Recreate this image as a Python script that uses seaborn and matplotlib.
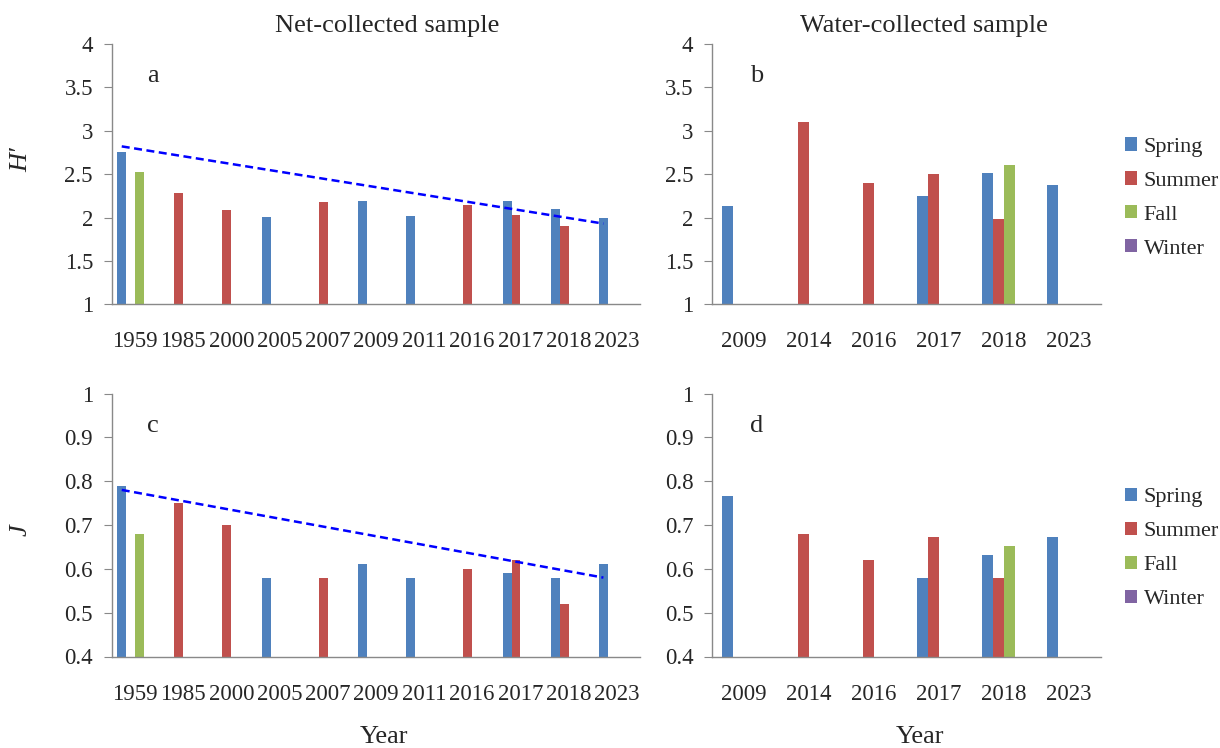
import numpy as np
import pandas as pd
import matplotlib
matplotlib.use("Agg")
import matplotlib.pyplot as plt
from matplotlib.patches import Patch
import seaborn as sns

# ---------------- data ----------------
seasons = ["Spring", "Summer", "Fall", "Winter"]
season_colors = ["#4F81BD", "#C0504D", "#9BBB59", "#8064A2"]

net_years = ["1959", "1985", "2000", "2005", "2007", "2009", "2011", "2016", "2017", "2018", "2023"]
net_H_spring = [2.76, None, None, 2.01, None, 2.19, 2.02, None, 2.19, 2.10, 2.00]
net_H_summer = [None, 2.28, 2.09, None, 2.18, None, None, 2.15, 2.03, 1.90, None]
net_H_fall   = [2.52, None, None, None, None, None, None, None, None, None, None]
net_J_spring = [0.79, None, None, 0.58, None, 0.61, 0.58, None, 0.59, 0.58, 0.61]
net_J_summer = [None, 0.75, 0.70, None, 0.58, None, None, 0.60, 0.62, 0.52, None]
net_J_fall   = [0.68, None, None, None, None, None, None, None, None, None, None]
trend_H = [2.82, 1.93]   # dashed trend line, first and last year
trend_J = [0.78, 0.58]

water_years = ["2009", "2014", "2016", "2017", "2018", "2023"]
water_H_spring = [2.13, None, None, 2.25, 2.51, 2.37]
water_H_summer = [None, 3.10, 2.40, 2.50, 1.98, None]
water_H_fall   = [None, None, None, None, 2.60, None]
water_J_spring = [0.767, None, None, 0.58, 0.631, 0.672]
water_J_summer = [None, 0.68, 0.62, 0.672, 0.58, None]
water_J_fall   = [None, None, None, None, 0.651, None]

H_ticks = ["1", "1.5", "2", "2.5", "3", "3.5", "4"]
J_ticks = ["0.4", "0.5", "0.6", "0.7", "0.8", "0.9", "1"]


def long_df(years, spring, summer, fall):
    rows = []
    for s, vals in zip(seasons[:3], [spring, summer, fall]):
        for y, v in zip(years, vals):
            if v is not None:
                rows.append({"Year": y, "Season": s, "Value": v})
    return pd.DataFrame(rows)


# ---------------- style ----------------
sns.set_style("white")
plt.rcParams["font.family"] = ["Liberation Serif", "DejaVu Serif"]
FS = 16.5
TFS = 19
GRAY = "#898989"

W, H = 1220, 748
fig = plt.figure(figsize=(W / 100, H / 100), dpi=100)


def px_axes(left, top, right, bottom):
    return fig.add_axes([left / W, 1 - bottom / H, (right - left) / W, (bottom - top) / H])


ax_a = px_axes(111.7, 44, 640, 304.3)
ax_b = px_axes(712, 44, 1101, 304.3)
ax_c = px_axes(111.7, 393.5, 640, 656.5)
ax_d = px_axes(712, 393.5, 1101, 656.5)

pal = dict(zip(seasons, season_colors))


def draw(ax, years, spring, summer, fall, ylim, ticks, width, margin, letter_x,
         trend=None, letter=""):
    df = long_df(years, spring, summer, fall)
    sns.barplot(data=df, x="Year", y="Value", hue="Season", order=years,
                hue_order=seasons, palette=pal, width=width, dodge=True,
                errorbar=None, legend=False, ax=ax, linewidth=0, saturation=1)
    n = len(years)
    ax.set_xlim(-margin, n - 1 + margin)
    lo, hi = ylim
    tv = [float(t) for t in ticks]
    ax.set_ylim(lo, hi)
    ax.set_yticks(tv)
    ax.set_yticklabels(ticks, fontsize=FS)
    ax.set_xticks(range(n))
    ax.set_xticklabels(years, fontsize=FS)
    ax.set_xlabel("")
    ax.set_ylabel("")
    for side in ["top", "right"]:
        ax.spines[side].set_visible(False)
    for side in ["left", "bottom"]:
        ax.spines[side].set_color(GRAY)
        ax.spines[side].set_linewidth(1.0)
    ax.tick_params(axis="y", direction="out", length=5.5, width=0.8, color=GRAY,
                   pad=8, left=True, labelsize=FS)
    ax.tick_params(axis="x", length=0, pad=19.5, labelsize=FS)
    ax.grid(False)
    if trend is not None:
        bw = width / len(seasons)
        off = -1.5 * bw
        ax.plot([0 + off, n - 1 + off], trend, color="#0000FF", lw=1.8,
                linestyle=(0, (3.2, 1.8)), zorder=5)
    ax.text(letter_x, 0.878, letter, transform=ax.transAxes,
            fontsize=TFS, ha="center", va="center")


draw(ax_a, net_years, net_H_spring, net_H_summer, net_H_fall, (1, 4), H_ticks,
     0.735, 0.484, 0.078, trend_H, "a")
draw(ax_b, water_years, water_H_spring, water_H_summer, water_H_fall, (1, 4), H_ticks,
     0.67, 0.489, 0.116, None, "b")
draw(ax_c, net_years, net_J_spring, net_J_summer, net_J_fall, (0.4, 1), J_ticks,
     0.735, 0.484, 0.078, trend_J, "c")
draw(ax_d, water_years, water_J_spring, water_J_summer, water_J_fall, (0.4, 1), J_ticks,
     0.67, 0.489, 0.116, None, "d")

# titles / labels
fig.text(387 / W, 1 - 26 / H, "Net-collected sample", fontsize=TFS, ha="center", va="center")
fig.text(924 / W, 1 - 26 / H, "Water-collected sample", fontsize=TFS, ha="center", va="center")
fig.text(384 / W, 1 - 737 / H, "Year", fontsize=TFS, ha="center", va="center")
fig.text(920 / W, 1 - 737 / H, "Year", fontsize=TFS, ha="center", va="center")
fig.text(21 / W, 1 - 160 / H, "H′", fontsize=TFS, style="italic", rotation=90,
         ha="center", va="center")
fig.text(21 / W, 1 - 530 / H, "J", fontsize=TFS, style="italic", rotation=90,
         ha="center", va="center")

handles = [Patch(facecolor=c, edgecolor="none", label=s) for s, c in zip(seasons, season_colors)]
for yc in [198.0, 548.5]:
    fig.legend(handles=handles, loc="center left", bbox_to_anchor=(1125 / W, 1 - yc / H),
               frameon=False, fontsize=16, handlelength=0.54, handleheight=0.54,
               handletextpad=0.3, labelspacing=0.65, borderpad=0, borderaxespad=0)

fig.savefig("out.png", dpi=100)
